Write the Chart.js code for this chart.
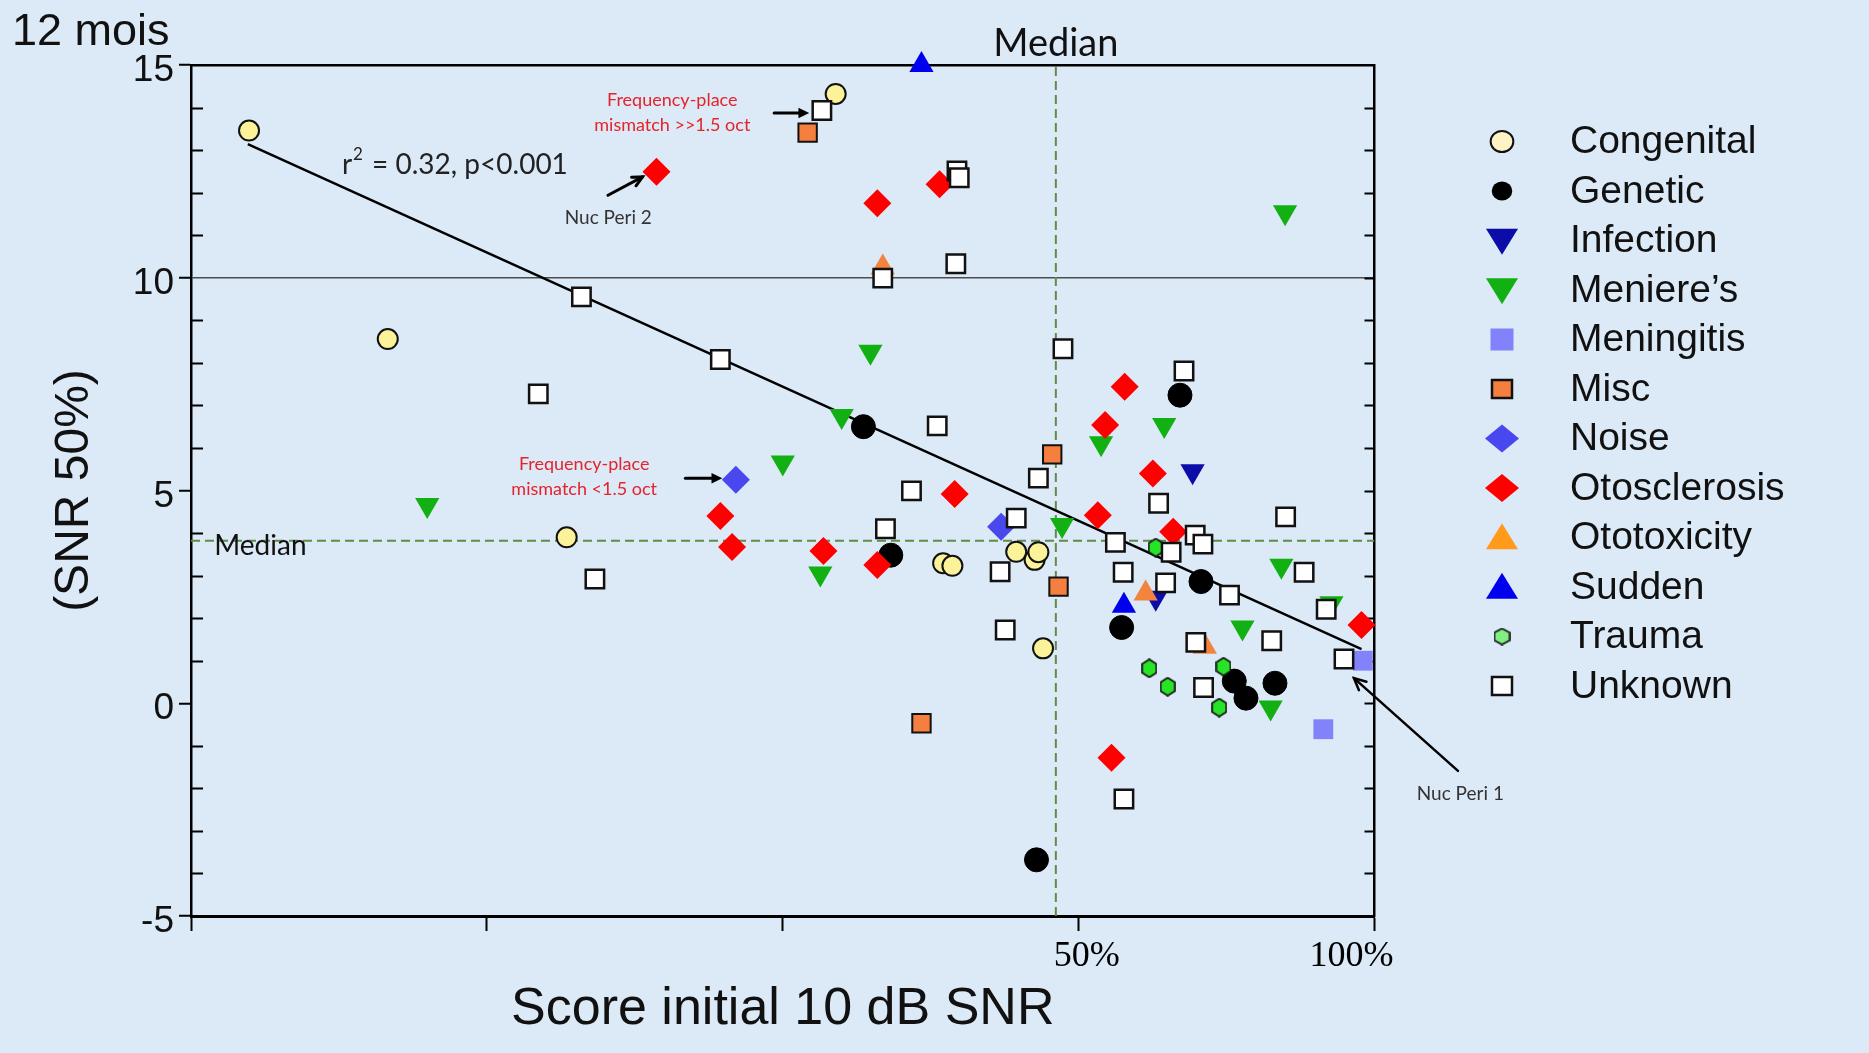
<!DOCTYPE html>
<html>
<head>
<meta charset="utf-8">
<script src="https://cdn.jsdelivr.net/npm/chart.js@4.4.1/dist/chart.umd.min.js"></script>
<style>
html,body{margin:0;padding:0;background:#dce9f6;}
#wrap{width:1869px;height:1053px;}
canvas{display:block;}
</style>
</head>
<body>
<div id="wrap"><canvas id="c" width="1869" height="1053"></canvas></div>
<script>
// ---------------- DATA ----------------
const categories = ['Congenital','Genetic','Infection','Meniere\u2019s','Meningitis','Misc','Noise','Otosclerosis','Ototoxicity','Sudden','Trauma','Unknown'];

// [initial score (%), SNR 50% (dB)]
const congenital = [[7.16,13.46],[9.91,8.56],[15.07,3.90],[28.3,14.32],[36.4,3.29],[37.2,3.23],[43.2,3.56],[45.1,3.37],[45.5,3.55],[46.0,1.29]];
const genetic = [[30.2,6.50],[32.2,3.48],[63.4,7.24],[55.3,1.78],[66.6,2.86],[72.0,0.52],[74.0,0.12],[79.2,0.47],[45.3,-3.68]];
const infection = [[65.3,5.45],[59.9,2.48]];
const menieres = [[10.87,4.66],[30.7,8.26],[28.7,6.75],[25.0,5.66],[27.3,3.05],[48.1,4.19],[81.1,11.54],[61.1,6.54],[52.7,6.11],[80.4,3.23],[90.4,2.35],[73.4,1.78],[78.4,-0.10]];
const meningitis = [[97.3,1.00],[88.7,-0.61]];
const misc = [[26.5,13.41],[47.0,5.85],[47.7,2.74],[34.6,-0.47]];
const noise = [[22.4,5.25],[41.7,4.15]];
const otosclerosis = [[18.6,12.49],[31.2,11.75],[36.1,12.20],[37.4,4.92],[21.6,4.40],[22.2,3.67],[27.5,3.58],[31.2,3.25],[55.7,7.44],[53.2,6.54],[59.5,5.40],[52.3,4.42],[62.4,4.03],[97.0,1.84],[54.0,-1.28]];
const ototoxicity = [[31.6,10.24],[58.5,2.58],[67.2,1.33]];
const sudden = [[34.6,15.0],[55.6,2.29]];
const trauma = [[59.9,3.66],[59.0,0.82],[70.2,0.86],[61.6,0.39],[69.5,-0.10]];
const unknown = [[15.6,9.55],[14.1,7.27],[16.1,2.92],[27.4,13.93],[37.6,12.51],[37.8,12.35],[31.6,9.99],[37.5,10.33],[21.6,8.08],[35.9,6.52],[48.2,8.33],[45.5,5.29],[33.8,4.99],[31.8,4.10],[43.2,4.35],[41.6,3.09],[42.1,1.72],[64.0,7.81],[60.3,4.70],[81.2,4.38],[54.5,3.78],[65.7,3.95],[66.9,3.74],[62.1,3.55],[55.5,3.08],[61.3,2.83],[71.2,2.54],[84.8,3.08],[89.3,2.21],[78.6,1.47],[65.8,1.43],[93.1,1.04],[67.0,0.37],[55.6,-2.25]];

const seriesData = [congenital, genetic, infection, menieres, meningitis, misc, noise, otosclerosis, ototoxicity, sudden, trauma, unknown];

const xTickValues = [6.25, 12.5, 25, 50, 100];
const xTickLabels = ['', '', '', '50%', '100%'];
const yTickValues = [-5, 0, 5, 10, 15];
const yMin = -5, yMax = 15;
const medianX = 47.4;
const medianY = 3.82;
const refLineY = 10;
const regression = [[7.14,13.14],[97.0,1.27]];

// ---------------- STYLES ----------------
const BG = '#dce9f6';
function makeHex(fill, w, h) {
  const c = document.createElement('canvas');
  c.width = w; c.height = h;
  const g = c.getContext('2d');
  const cx = w/2, t = 1, b = h-1, l = 1, r = w-1;
  g.beginPath();
  g.moveTo(cx, t); g.lineTo(r, t + (h-2)*0.25); g.lineTo(r, t + (h-2)*0.75);
  g.lineTo(cx, b); g.lineTo(l, t + (h-2)*0.75); g.lineTo(l, t + (h-2)*0.25); g.closePath();
  g.fillStyle = fill; g.fill();
  g.lineWidth = 1.6; g.strokeStyle = '#111'; g.stroke();
  return c;
}
const hexPlot = makeHex('#27e427', 16, 20);
const hexLegend = makeHex('#82ef82', 17, 18);

const styles = [
  {ps:'circle', r:10, bg:'#fbf29a', bc:'#111', bw:2},
  {ps:'circle', r:12, bg:'#000000', bc:'#000', bw:1},
  {ps:'triangle', rot:180, r:14, bg:'#0c0ca8', bc:'#0c0ca8', bw:0},
  {ps:'triangle', rot:180, r:14, bg:'#12b012', bc:'#12b012', bw:0},
  {ps:'rect', r:14, bg:'#8282fa', bc:'#8282fa', bw:0},
  {ps:'rect', r:13, bg:'#f47f3e', bc:'#111', bw:2},
  {ps:'rectRot', r:14, bg:'#4848ee', bc:'#4848ee', bw:0},
  {ps:'rectRot', r:14, bg:'#ff0000', bc:'#ff0000', bw:0},
  {ps:'triangle', r:14, bg:'#f2843e', bc:'#f2843e', bw:0},
  {ps:'triangle', r:14, bg:'#0000ee', bc:'#0000ee', bw:0},
  {ps:hexPlot, r:10, bg:'#27e427', bc:'#111', bw:1},
  {ps:'rect', r:13, bg:'#ffffff', bc:'#111', bw:2.5}
];
const legendColors = ['#fdf3c4','#000','#0c0ca8','#12b012','#8282fa','#f47f3e','#4848ee','#ff0000','#ff9a1a','#0000ee','#82ef82','#fff'];

// ---------------- DATASETS ----------------
const datasets = categories.map((name, i) => {
  const st = styles[i];
  return {
    label: name,
    data: seriesData[i].map(p => ({x: p[0], y: p[1]})),
    xAxisID: 'x', yAxisID: 'y',
    showLine: false,
    pointStyle: st.ps,
    pointRadius: st.r,
    pointHoverRadius: st.r,
    pointRotation: st.rot || 0,
    pointBackgroundColor: st.bg,
    pointBorderColor: st.bc,
    pointBorderWidth: st.bw,
    backgroundColor: st.bg,
    borderColor: st.bc,
    order: 30 - i,
    clip: false
  };
});
datasets.push({
  label: 'regression', data: regression.map(p => ({x: p[0], y: p[1]})),
  xAxisID: 'x', yAxisID: 'y', showLine: true, pointRadius: 0, borderColor: '#000', borderWidth: 2.5, order: 60
});
datasets.push({
  label: 'medianX', data: [{x: medianX, y: yMin}, {x: medianX, y: yMax}],
  xAxisID: 'x', yAxisID: 'y', showLine: true, pointRadius: 0, borderColor: '#5e8d46', borderWidth: 2, borderDash: [9, 5], order: 70
});
datasets.push({
  label: 'medianY', data: [{x: xTickValues[0], y: medianY}, {x: xTickValues[xTickValues.length-1], y: medianY}],
  xAxisID: 'x', yAxisID: 'y', showLine: true, pointRadius: 0, borderColor: '#5e8d46', borderWidth: 2, borderDash: [9, 5], order: 70
});

// ---------------- HELPERS ----------------
function arrow(ctx, x1, y1, x2, y2, lw, head, filled) {
  ctx.save();
  ctx.strokeStyle = '#000'; ctx.fillStyle = '#000'; ctx.lineWidth = lw; ctx.lineCap = 'round';
  const a = Math.atan2(y2 - y1, x2 - x1);
  const ex = filled ? x2 - Math.cos(a) * head * 0.7 : x2;
  const ey = filled ? y2 - Math.sin(a) * head * 0.7 : y2;
  ctx.beginPath(); ctx.moveTo(x1, y1); ctx.lineTo(ex, ey); ctx.stroke();
  const s = 0.45;
  ctx.beginPath();
  ctx.moveTo(x2 - Math.cos(a - s) * head, y2 - Math.sin(a - s) * head);
  ctx.lineTo(x2, y2);
  ctx.lineTo(x2 - Math.cos(a + s) * head, y2 - Math.sin(a + s) * head);
  if (filled) { ctx.closePath(); ctx.fill(); } else { ctx.stroke(); }
  ctx.restore();
}

function legendMarker(ctx, i, x, y) {
  const st = styles[i];
  const col = legendColors[i];
  ctx.save();
  ctx.fillStyle = col; ctx.strokeStyle = '#111';
  ctx.beginPath();
  if (st.ps === 'circle') {
    const r = i === 0 ? 10.5 : 9.5;
    ctx.ellipse(x, y, r * 1.08, r, 0, 0, Math.PI * 2);
    ctx.fill(); if (i === 0) { ctx.lineWidth = 2; ctx.stroke(); }
  } else if (st.ps === 'triangle') {
    const w = 16, h = 13;
    if (st.rot) { ctx.moveTo(x - w, y - h*0.9); ctx.lineTo(x + w, y - h*0.9); ctx.lineTo(x, y + h*1.1); }
    else { ctx.moveTo(x - w, y + h*0.9); ctx.lineTo(x + w, y + h*0.9); ctx.lineTo(x, y - h*1.1); }
    ctx.closePath(); ctx.fill();
  } else if (st.ps === 'rectRot') {
    ctx.moveTo(x - 17, y); ctx.lineTo(x, y - 14); ctx.lineTo(x + 17, y); ctx.lineTo(x, y + 14);
    ctx.closePath(); ctx.fill();
  } else if (st.ps === 'rect') {
    const hw = i === 4 ? 11.5 : 10, hh = i === 4 ? 11 : 9;
    ctx.rect(x - hw, y - hh, hw * 2, hh * 2);
    ctx.fill(); if (st.bw) { ctx.lineWidth = 2.5; ctx.stroke(); }
  } else {
    ctx.drawImage(hexLegend, x - hexLegend.width / 2, y - hexLegend.height / 2);
  }
  ctx.restore();
}

// ---------------- DECORATION PLUGIN ----------------
const decor = {
  id: 'decor',
  beforeDraw(chart) {
    const ctx = chart.ctx;
    ctx.save(); ctx.fillStyle = BG; ctx.fillRect(0, 0, chart.width, chart.height); ctx.restore();
  },
  beforeDatasetsDraw(chart) {
    const {ctx, chartArea: a, scales: {y}} = chart;
    ctx.save(); ctx.strokeStyle = '#000'; ctx.lineWidth = 2;
    for (let v = yMin + 1; v < yMax; v++) {
      const py = Math.round(y.getPixelForValue(v)) + 0.5;
      ctx.beginPath();
      if (v % 5 !== 0) { ctx.moveTo(a.left, py); ctx.lineTo(a.left + 12, py); }
      ctx.moveTo(a.right - 10, py); ctx.lineTo(a.right, py);
      ctx.stroke();
    }
    ctx.restore();
  },
  afterDatasetsDraw(chart) {
    const {ctx, scales: {x, y}} = chart;
    const X = v => x.getPixelForValue(v), Y = v => y.getPixelForValue(v);
    ctx.save();
    ctx.textBaseline = 'middle';
    // regression label
    ctx.fillStyle = '#222'; ctx.textAlign = 'left';
    let tx = X(8.9), ty = Y(12.65);
    ctx.font = '28px Lato';
    ctx.fillText('r', tx, ty);
    tx += ctx.measureText('r').width + 1;
    ctx.font = '17px Lato';
    ctx.fillText('2', tx, ty - 10);
    tx += ctx.measureText('2').width + 2;
    ctx.font = '28px Lato';
    ctx.fillText(' = 0.32, p<0.001', tx, ty);
    // Nuc Peri labels
    ctx.font = '19px Lato'; ctx.fillStyle = '#333';
    ctx.fillText('Nuc Peri 2', X(15.0), Y(11.40));
    ctx.fillText('Nuc Peri 1', X(110.4), Y(-2.13));
    // red notes
    ctx.font = '18px Lato'; ctx.fillStyle = '#e5232b'; ctx.textAlign = 'center';
    ctx.fillText('Frequency-place', X(19.3), Y(14.18));
    ctx.fillText('mismatch >>1.5 oct', X(19.3), Y(13.59));
    ctx.fillText('Frequency-place', X(15.7), Y(5.62));
    ctx.fillText('mismatch <1.5 oct', X(15.7), Y(5.04));
    // Median labels
    ctx.fillStyle = '#111';
    ctx.font = '38px Lato';
    ctx.fillText('Median', X(medianX), Y(15.50));
    ctx.textAlign = 'left';
    ctx.font = '28px Lato';
    ctx.fillText('Median', X(6.6), Y(3.70));
    ctx.restore();
    // arrows
    arrow(ctx, X(24.5), Y(13.87), X(26.6), Y(13.87), 3, 12, true);
    arrow(ctx, X(19.9), Y(5.29), X(21.7), Y(5.29), 3, 12, true);
    arrow(ctx, X(16.6), Y(11.94), X(18.0), Y(12.37), 3, 11, false);
    arrow(ctx, X(121.6), Y(-1.59), X(95.3), Y(0.59), 2.5, 13, false);
  },
  afterDraw(chart) {
    const {ctx, scales: {x}} = chart;
    ctx.save();
    // x tick labels
    ctx.fillStyle = '#000'; ctx.font = '36px "Liberation Serif"'; ctx.textAlign = 'center'; ctx.textBaseline = 'middle';
    const shifts = [0, 0, 0, 8, -23];
    xTickValues.forEach((v, i) => {
      if (xTickLabels[i]) ctx.fillText(xTickLabels[i], x.getPixelForValue(v) + shifts[i], 957);
    });
    // panel title
    ctx.font = '45px "Liberation Sans"'; ctx.textAlign = 'left'; ctx.textBaseline = 'alphabetic'; ctx.fillStyle = '#111';
    ctx.fillText('12 mois', 12, 45);
    // legend
    ctx.font = '39px "Liberation Sans"'; ctx.textBaseline = 'middle'; ctx.fillStyle = '#111';
    categories.forEach((name, i) => {
      const cy = 141.5 + i * 49.5;
      legendMarker(ctx, i, 1502, cy);
      ctx.fillStyle = '#111';
      ctx.fillText(name, 1570, cy + 1);
    });
    ctx.restore();
  }
};

// ---------------- CHART ----------------
new Chart(document.getElementById('c'), {
  type: 'scatter',
  data: { datasets },
  options: {
    responsive: false,
    animation: false,
    events: [],
    layout: { padding: 0 },
    plugins: { legend: { display: false }, tooltip: { enabled: false } },
    scales: {
      x: {
        type: 'logarithmic', position: 'bottom', min: xTickValues[0], max: xTickValues[xTickValues.length - 1],
        afterBuildTicks: s => { s.ticks = xTickValues.map(v => ({value: v})); },
        afterFit: s => { s.height = 137; },
        ticks: { display: false },
        grid: { display: true, drawOnChartArea: false, drawTicks: true, tickLength: 15, tickColor: '#000', tickWidth: 2, color: 'rgba(0,0,0,0)' },
        border: { display: true, color: '#000', width: 3 },
        title: { display: true, text: 'Score initial 10 dB SNR', color: '#111', font: { size: 52, family: '"Liberation Sans"' }, padding: { top: 0, bottom: 12 } }
      },
      xTop: {
        type: 'linear', position: 'top', min: 0, max: 1,
        afterFit: s => { s.height = 65; },
        ticks: { display: false },
        grid: { display: false, drawTicks: false },
        border: { display: true, color: '#000', width: 2.5 }
      },
      y: {
        type: 'linear', position: 'left', min: yMin, max: yMax,
        afterFit: s => { s.width = 191; },
        ticks: {
          stepSize: 1, autoSkip: false, padding: 5, labelOffset: 6, color: '#111',
          font: { size: 37, family: '"Liberation Sans"' },
          callback: v => yTickValues.includes(v) ? String(v) : ''
        },
        grid: {
          drawOnChartArea: true, drawTicks: true, tickLength: 12, tickWidth: 2, lineWidth: 1.5,
          tickColor: c => (c.tick && yTickValues.includes(c.tick.value)) ? '#000' : 'rgba(0,0,0,0)',
          color: c => (c.tick && c.tick.value === refLineY) ? '#4d4d4d' : 'rgba(0,0,0,0)'
        },
        border: { display: true, color: '#000', width: 2.5 },
        title: { display: true, text: '(SNR 50%)', color: '#111', font: { size: 48, family: '"Liberation Sans"' }, padding: { top: 46, bottom: 0 } }
      },
      yR: {
        type: 'linear', position: 'right', min: yMin, max: yMax,
        afterFit: s => { s.width = 494.5; },
        ticks: { display: false },
        grid: { display: false, drawTicks: false },
        border: { display: true, color: '#000', width: 2.5 }
      }
    }
  },
  plugins: [decor]
});
</script>
</body>
</html>
